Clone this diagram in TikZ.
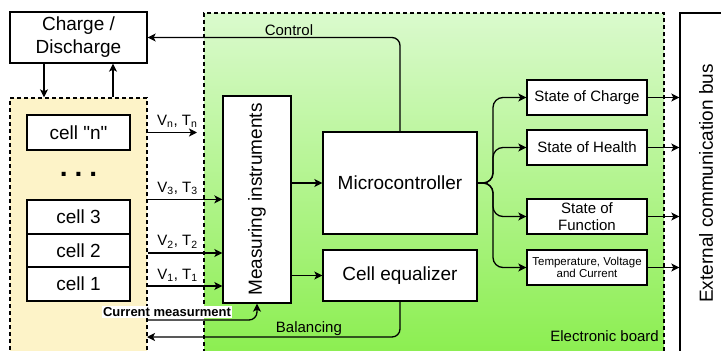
\documentclass[tikz,border=0pt]{standalone}
\usepackage{fontspec}
\setmainfont{Liberation Sans}
\usetikzlibrary{arrows.meta, positioning}

\definecolor{packyellow}{RGB}{253,243,200}
\definecolor{boardtop}{RGB}{218,250,205}
\definecolor{boardbottom}{RGB}{138,238,78}

\begin{document}
\begin{tikzpicture}[x=1pt, y=-1pt,
        box/.style={draw, rectangle, fill=white, line width=1.3pt, inner sep=0pt, align=center},
        area/.style={draw, rectangle, line width=1.3pt, dash pattern=on 4pt off 3pt, inner sep=0pt},
        big/.style={font=\fontsize{19}{23}\selectfont},
        mid/.style={font=\fontsize{15}{17}\selectfont},
        lbl/.style={font=\fontsize{15}{17}\selectfont, inner sep=1pt},
        arr/.style={line width=1.3pt, -{Stealth[length=8pt, width=8pt, inset=2pt]}}]
        \useasboundingbox (0,0) rectangle (721,351);

        % Areas
        \node[area, fill=packyellow, minimum width=137pt, minimum height=262pt] (pack) at (78.5,229) {};
        \node[area, top color=boardtop, bottom color=boardbottom, minimum width=460pt, minimum height=347pt] (board) at (434,186.5) {};
        \node[box, big, minimum width=52pt, minimum height=341pt] (bus) at (706,183.5) {\rotatebox{90}{External communication bus}};

        % Battery cells
        \node[box, big, minimum width=137pt, minimum height=51pt] (chg) at (78.5,37.5) {Charge /\\Discharge};
        \node[box, big, minimum width=103pt, minimum height=35pt] (celln) at (78.5,132.5) {cell \textquotedbl n\textquotedbl};
        \node[font=\bfseries\fontsize{28}{28}\selectfont, inner sep=0pt] (dots) at (78.5,174) {.\hspace{7pt}.\hspace{7pt}.};
        \node[box, big, minimum width=103pt, minimum height=34pt] (cell3) at (78.5,217) {cell 3};
        \node[box, big, minimum width=103pt, minimum height=33pt] (cell2) at (78.5,250.5) {cell 2};
        \node[box, big, minimum width=103pt, minimum height=34pt] (cell1) at (78.5,284) {cell 1};

        % Electronic board
        \node[box, big, minimum width=68pt, minimum height=207pt] (meas) at (257,199.5) {\rotatebox{90}{Measuring instruments}};
        \node[box, big, minimum width=154pt, minimum height=102pt] (micro) at (400,183) {Microcontroller};
        \node[box, big, minimum width=154pt, minimum height=51pt] (eq) at (400,275.5) {Cell equalizer};
        \node[box, mid, minimum width=120pt, minimum height=35pt] (soc) at (587,97.5) {State of Charge};
        \node[box, mid, minimum width=120pt, minimum height=35pt] (soh) at (587,147.5) {State of Health};
        \node[box, mid, minimum width=120pt, minimum height=35pt] (sof) at (587,216.5) {State of\\Function};
        \node[box, font=\fontsize{11.5}{12.5}\selectfont, minimum width=120pt, minimum height=35pt] (tvc) at (587,267.5) {Temperature, Voltage\\and Current};
        \node[lbl, anchor=east] (boardlbl) at (660,336) {Electronic board};

        % Charge / discharge
        \draw[arr] ([xshift=-34.5pt]chg.south) -- ([xshift=-34.5pt]pack.north);
        \draw[arr] ([xshift=34.5pt]pack.north) -- ([xshift=34.5pt]chg.south);

        % Measurements
        \coordinate (vn) at (197,132.5);
        \coordinate (v3) at (cell3.north);
        \coordinate (v2) at ([yshift=-2.5pt]cell2.east);
        \coordinate (v1) at ([yshift=-2pt]cell1.east);
        \draw[arr] (celln.east -| pack.east) -- node[lbl, above=3pt, pos=0.6]{V\textsubscript{n}, T\textsubscript{n}} (vn);
        \draw[arr] (v3 -| pack.east) -- node[lbl, above=3pt, pos=0.4]{V\textsubscript{3}, T\textsubscript{3}} (v3 -| meas.west);
        \draw[arr] (v2 -| pack.east) -- node[lbl, above=3pt, pos=0.4]{V\textsubscript{2}, T\textsubscript{2}} (v2 -| meas.west);
        \draw[arr] (v1 -| pack.east) -- node[lbl, above=3pt, pos=0.4]{V\textsubscript{1}, T\textsubscript{1}} (v1 -| meas.west);
        \draw[arr] (meas.east |- micro.west) -- (micro.west);
        \draw[arr] (meas.east |- eq.west) -- (eq.west);

        \coordinate (imeas) at (147,320);
        \draw[arr, rounded corners=8pt] (imeas) -| (meas.south);
        \node[lbl, fill=white, font=\bfseries\fontsize{13}{15}\selectfont] (imlbl) at (167,312) {Current measurment};

        % Balancing and control
        \coordinate (bal) at (147,337);
        \draw[arr, rounded corners=8pt] (eq.south) |- node[lbl, above, pos=0.68]{Balancing} (bal);
        \draw[arr, rounded corners=8pt] (micro.north) |- node[lbl, above, pos=0.72]{Control} (chg.east);

        % Outputs
        \coordinate (fan) at (493,183);
        \foreach \s in {soc,soh,sof,tvc}{
            \draw[arr, rounded corners=10pt] (micro.east) -- (fan) |- (\s.west);
            \draw[arr] (\s.east) -- (\s.east -| bus.west);
        }
    \end{tikzpicture}
\end{document}
